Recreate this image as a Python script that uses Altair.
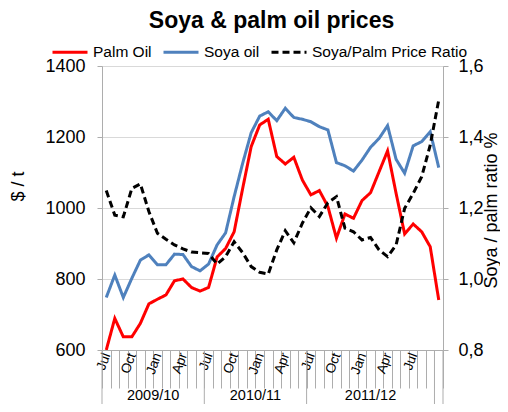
import json
import altair as alt
import pandas as pd

# ---------------- data ----------------
months = (["Jul", "Aug", "Sep", "Oct", "Nov", "Dec", "Jan", "Feb", "Mar", "Apr", "May", "Jun"] * 3
          + ["Jul", "Aug", "Sep", "Oct"])

palm = [600, 689, 637, 637, 675, 730, 743, 755, 795, 800, 776, 766,
        776, 862, 886, 933, 1055, 1173, 1234, 1250, 1145, 1124, 1143, 1079,
        1037, 1049, 1004, 915, 983, 971, 1021, 1043, 1102, 1161, 1041, 927,
        955, 933, 891, 741]

soya = [748, 811, 748, 802, 853, 868, 840, 840, 870, 869, 835, 823,
        842, 896, 930, 1032, 1126, 1212, 1259, 1271, 1246, 1281, 1255, 1250,
        1243, 1229, 1220, 1128, 1119, 1104, 1135, 1171, 1196, 1232, 1137, 1098,
        1175, 1187, 1215, 1114]

ratio = [1.249, 1.18, 1.175, 1.255, 1.268, 1.19, 1.129, 1.112, 1.096, 1.085, 1.076, 1.074,
         1.072, 1.042, 1.063, 1.105, 1.074, 1.035, 1.019, 1.014, 1.082, 1.136, 1.102, 1.157,
         1.201, 1.176, 1.215, 1.232, 1.143, 1.133, 1.11, 1.117, 1.082, 1.063, 1.096, 1.199,
         1.241, 1.288, 1.377, 1.504]

shown_months = ["Jul", "", "", "Oct", "", "", "Jan", "", "", "Apr", "", "",
                "Jul", "", "", "Oct", "", "", "Jan", "", "", "Apr", "", "",
                "Jul", "", "", "Oct", "", "", "Jan", "", "", "Apr", "", "",
                "Jul", "", "", "", ""]

groups = ["2009/10", "2010/11", "2011/12"]
group_centers = [5.5, 17.5, 31.0]
group_bounds = [-0.5, 11.5, 23.5, 38.5, 39.5]

series_names = ["Palm Oil", "Soya oil", "Soya/Palm Price Ratio"]
series_colors = ["#FF0000", "#4F81BD", "#000000"]
series_dash = [[1, 0], [1, 0], [7, 4]]

# ---------------- tables ----------------
n = len(months)
idx = list(range(n))
df_prices = pd.DataFrame({
    "idx": idx * 2,
    "value": palm + soya,
    "series": ["Palm Oil"] * n + ["Soya oil"] * n,
})
df_ratio = pd.DataFrame({"idx": idx, "ratio": ratio, "series": ["Soya/Palm Price Ratio"] * n})
df_groups = pd.DataFrame({"center": group_centers, "label": groups})
df_bounds = pd.DataFrame({"b": group_bounds})

FONT = "Liberation Sans"
GRAY = "#ADADAD"

x_scale = alt.Scale(domain=[-0.5, n - 0.5], nice=False, zero=False)
x_axis = alt.Axis(
    title=None,
    values=[i - 0.5 for i in range(n + 1)],
    labelExpr=json.dumps(shown_months) + "[round(datum.value + 0.5)]",
    labelAngle=290, labelAlign="right", labelBaseline="middle",
    labelFontSize=13.5, labelFont=FONT, labelColor="#000000",
    labelPadding=-35, labelOffset=4.27,
    labelOverlap=False, labelFlush=False, labelBound=False,
    tickSize=38, tickColor=GRAY, domainColor=GRAY, grid=False,
)

legend = alt.Legend(
    title=None, orient="none", legendX=-51, legendY=-33, direction="horizontal",
    symbolType="stroke", symbolSize=1225, symbolStrokeWidth=3,
    labelFontSize=15.5, labelFont=FONT, labelColor="#000000",
    columnPadding=5, padding=0, labelOffset=4,
)
color_enc = alt.Color("series:N", scale=alt.Scale(domain=series_names, range=series_colors), legend=legend)
dash_enc = alt.StrokeDash("series:N", scale=alt.Scale(domain=series_names, range=series_dash), legend=legend)

prices = alt.Chart(df_prices).mark_line(strokeWidth=3, clip=True).encode(
    x=alt.X("idx:Q", scale=x_scale, axis=x_axis),
    y=alt.Y("value:Q", scale=alt.Scale(domain=[600, 1400], nice=False, zero=False),
            axis=alt.Axis(title="$ / t", values=[600, 800, 1000, 1200, 1400], format="d",
                          labelFontSize=18, labelFont=FONT, labelColor="#000000", labelPadding=12,
                          tickSize=5, tickColor=GRAY, domainColor=GRAY,
                          grid=True, gridColor="#D9D9D9",
                          titleFontSize=18, titleFont=FONT, titleFontWeight="normal",
                          titleColor="#000000", titleAngle=270, titleX=-84, titleY=120,
                          titleAlign="center", titleBaseline="middle")),
    color=color_enc,
    strokeDash=dash_enc,
    order=alt.Order("idx:Q"),
)

ratio_line = alt.Chart(df_ratio).mark_line(strokeWidth=3, clip=True).encode(
    x=alt.X("idx:Q", scale=x_scale, axis=x_axis),
    y=alt.Y("ratio:Q", scale=alt.Scale(domain=[0.8, 1.6], nice=False, zero=False),
            axis=alt.Axis(orient="right", title="Soya / palm ratio %",
                          values=[0.8, 1.0, 1.2, 1.4, 1.6],
                          labelExpr="replace(format(datum.value, '.1f'), '.', ',')",
                          labelFontSize=18, labelFont=FONT, labelColor="#000000", labelPadding=10,
                          tickSize=5, tickColor=GRAY, domainColor=GRAY, grid=False,
                          titleFontSize=18, titleFont=FONT, titleFontWeight="normal",
                          titleColor="#000000", titleAngle=270, titleX=48, titleY=144,
                          titleAlign="center", titleBaseline="middle")),
    color=color_enc,
    strokeDash=dash_enc,
    order=alt.Order("idx:Q"),
)

bounds = alt.Chart(df_bounds).mark_rule(color=GRAY, strokeWidth=1).encode(
    x=alt.X("b:Q", scale=x_scale, axis=x_axis),
    y=alt.value(284),
    y2=alt.value(345),
)

group_text = alt.Chart(df_groups).mark_text(
    fontSize=14.5, font=FONT, color="#000000", baseline="alphabetic", align="center"
).encode(
    x=alt.X("center:Q", scale=x_scale, axis=x_axis),
    y=alt.value(334),
    text="label:N",
)

left = alt.layer(bounds, group_text, prices)
chart = alt.layer(left, ratio_line).resolve_scale(y="independent").properties(
    width=341, height=284,
    autosize=alt.AutoSizeParams(type="none"),
    padding={"left": 94, "top": 58, "right": 57, "bottom": 54},
    title=alt.TitleParams("Soya & palm oil prices", fontSize=23, fontWeight="bold", font=FONT,
                          color="#000000", anchor="middle", frame="group", offset=0, dx=-1),
).configure_view(strokeWidth=0).configure(font=FONT)

chart.save("out.html", embed_options={"renderer": "svg", "actions": False})
